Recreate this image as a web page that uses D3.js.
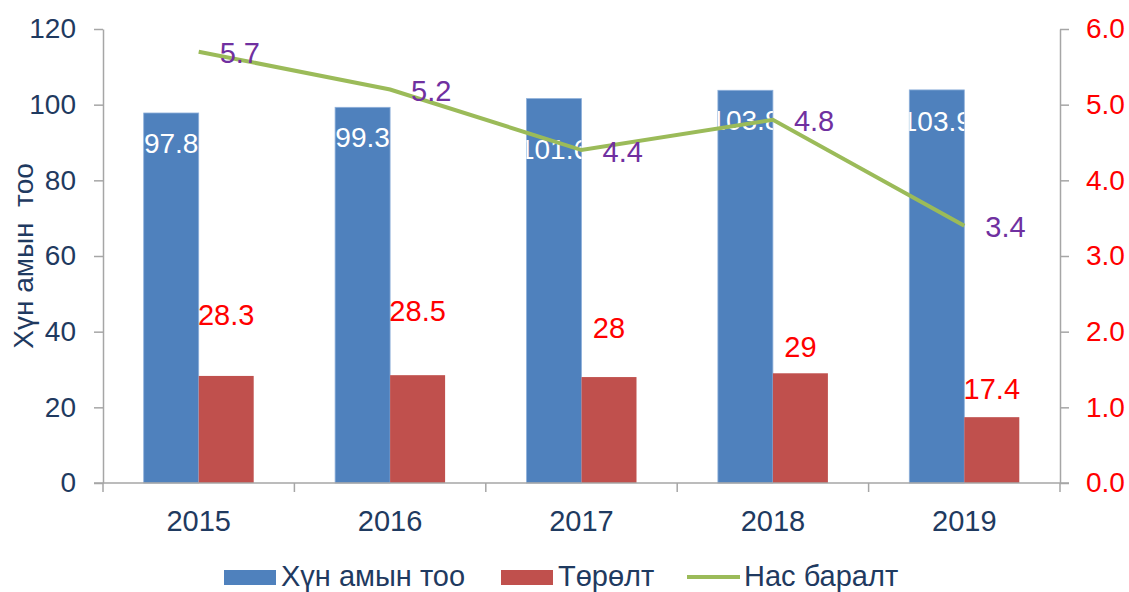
<!DOCTYPE html>
<html>
<head>
<meta charset="utf-8">
<script src="https://cdn.jsdelivr.net/npm/d3@7"></script>
<style>
  body { margin: 0; background: #fff; }
  svg text { font-family: Arial, "Liberation Sans", sans-serif; }
</style>
</head>
<body>
<div id="chart"></div>
<script>
// data
var years = ['2015', '2016', '2017', '2018', '2019'];
var population = [97.8, 99.3, 101.6, 103.8, 103.9];
var births = [28.3, 28.5, 28, 29, 17.4];
var deaths = [5.7, 5.2, 4.4, 4.8, 3.4];
var leftTicks = [0, 20, 40, 60, 80, 100, 120];
var rightTicks = [0, 1, 2, 3, 4, 5, 6];
var seriesNames = ['Хүн амын тоо', 'Төрөлт', 'Нас баралт'];
var axisTitle = 'Хүн амын  тоо';

// label placement tweaks (px), like the hand-moved labels in the original
var popLabelDy = [30, 30, 50, 30, 31];
var birthLabelDy = [-61, -65, -50, -27, -29];

var W = 1129, H = 592;
var m = {left: 103, right: 69, top: 29, bottom: 109};
var navy = '#1F3A60', axisGrey = '#A6A6A6';
var blue = '#4F81BD', red = '#C0504D', green = '#9BBB59', purple = '#7030A0';

var svg = d3.select('#chart').append('svg')
    .attr('width', W)
    .attr('height', H);

var x = d3.scaleBand().domain(years).range([m.left, W - m.right]);
var xs = d3.scaleBand().domain(['pop', 'birth']).range([0, x.bandwidth()]).paddingOuter(0.74);
var y = d3.scaleLinear().domain([0, 120]).range([H - m.bottom, m.top]);
var y2 = d3.scaleLinear().domain([0, 6]).range([H - m.bottom, m.top]);

// bars
var defs = svg.append('defs');
var groups = svg.selectAll('g.year').data(years).enter().append('g')
    .attr('class', 'year')
    .attr('transform', function(d){ return 'translate(' + x(d) + ',0)'; });

groups.append('rect')
    .attr('x', xs('pop'))
    .attr('width', xs.bandwidth())
    .attr('y', function(d, i){ return y(population[i]); })
    .attr('height', function(d, i){ return y(0) - y(population[i]); })
    .attr('fill', blue)
    .attr('stroke', '#8EB0DA')
    .attr('stroke-width', 0.8);

groups.append('rect')
    .attr('x', xs('birth'))
    .attr('width', xs.bandwidth())
    .attr('y', function(d, i){ return y(births[i]); })
    .attr('height', function(d, i){ return y(0) - y(births[i]); })
    .attr('fill', red);

// white labels clipped to their bar
groups.each(function(d, i){
    defs.append('clipPath').attr('id', 'clip' + i)
        .append('rect')
        .attr('x', xs('pop'))
        .attr('width', xs.bandwidth())
        .attr('y', y(population[i]))
        .attr('height', y(0) - y(population[i]));
});
groups.append('text')
    .attr('clip-path', function(d, i){ return 'url(#clip' + i + ')'; })
    .attr('x', xs('pop') + xs.bandwidth() / 2)
    .attr('y', function(d, i){ return y(population[i]) + popLabelDy[i]; })
    .attr('dy', '0.36em')
    .attr('text-anchor', 'middle')
    .attr('font-size', 28)
    .attr('fill', '#fff')
    .text(function(d, i){ return population[i]; });

groups.append('text')
    .attr('x', xs('birth') + xs.bandwidth() / 2)
    .attr('y', function(d, i){ return y(births[i]) + birthLabelDy[i]; })
    .attr('dy', '0.36em')
    .attr('text-anchor', 'middle')
    .attr('font-size', 29)
    .attr('fill', '#FF0000')
    .text(function(d, i){ return births[i]; });

// axes
function styleAxis(g, color){
    g.selectAll('.domain').attr('stroke', axisGrey).attr('stroke-width', 1.5);
    g.selectAll('.tick line').attr('stroke', axisGrey).attr('stroke-width', 1.5);
    g.selectAll('.tick text').attr('fill', color).attr('font-size', 28)
        .attr('font-family', 'Arial, "Liberation Sans", sans-serif');
}

var gl = svg.append('g')
    .attr('transform', 'translate(' + m.left + ',0)')
    .call(d3.axisLeft(y).tickValues(leftTicks).tickSize(9).tickPadding(18).tickSizeOuter(0));
styleAxis(gl, navy);

var gr = svg.append('g')
    .attr('transform', 'translate(' + (W - m.right) + ',0)')
    .call(d3.axisRight(y2).tickValues(rightTicks).tickFormat(d3.format('.1f')).tickSize(9).tickPadding(17).tickSizeOuter(0));
styleAxis(gr, '#FF0000');

var gx = svg.append('g')
    .attr('transform', 'translate(0,' + y(0) + ')');
gx.append('line')
    .attr('x1', m.left - 9).attr('x2', W - m.right + 9)
    .attr('stroke', axisGrey).attr('stroke-width', 1.5);
var bounds = years.map(function(d){ return x(d); }).concat([x.range()[1]]);
gx.selectAll('line.tk').data(bounds).enter().append('line')
    .attr('class', 'tk')
    .attr('x1', function(d){ return d; }).attr('x2', function(d){ return d; })
    .attr('y1', 0).attr('y2', 9)
    .attr('stroke', axisGrey).attr('stroke-width', 1.5);
gx.selectAll('text').data(years).enter().append('text')
    .attr('x', function(d){ return x(d) + x.bandwidth() / 2; })
    .attr('y', 48)
    .attr('text-anchor', 'middle')
    .attr('font-size', 29)
    .attr('fill', navy)
    .text(function(d){ return d; });

svg.append('text')
    .attr('transform', 'translate(33,256) rotate(-90)')
    .attr('text-anchor', 'middle')
    .attr('font-size', 28)
    .attr('fill', navy)
    .attr('xml:space', 'preserve')
    .style('white-space', 'pre')
    .text(axisTitle);

// line
var cx = function(i){ return x(years[i]) + x.bandwidth() / 2; };
var line = d3.line()
    .x(function(d, i){ return cx(i); })
    .y(function(d){ return y2(d); });

svg.append('path')
    .datum(deaths)
    .attr('d', line)
    .attr('fill', 'none')
    .attr('stroke', green)
    .attr('stroke-width', 4);

svg.selectAll('text.death').data(deaths).enter().append('text')
    .attr('class', 'death')
    .attr('x', function(d, i){ return cx(i) + 21; })
    .attr('y', function(d){ return y2(d) + 1; })
    .attr('dy', '0.36em')
    .attr('font-size', 29)
    .attr('fill', purple)
    .text(function(d){ return d3.format('.1f')(d); });

// legend
var legend = svg.append('g').attr('transform', 'translate(0,576)');
var legendItems = [
    {name: seriesNames[0], color: blue, type: 'rect', x: 224},
    {name: seriesNames[1], color: red, type: 'rect', x: 501},
    {name: seriesNames[2], color: green, type: 'line', x: 687}
];
legendItems.forEach(function(d){
    if(d.type === 'rect'){
        legend.append('rect')
            .attr('x', d.x).attr('y', -6)
            .attr('width', 52).attr('height', 15)
            .attr('fill', d.color);
    }
    else{
        legend.append('line')
            .attr('x1', d.x).attr('x2', d.x + 53)
            .attr('y1', 1).attr('y2', 1)
            .attr('stroke', d.color).attr('stroke-width', 4);
    }
    legend.append('text')
        .attr('x', d.x + 57)
        .attr('y', 0)
        .attr('dy', '0.36em')
        .attr('font-size', 29)
        .attr('fill', navy)
        .text(d.name);
});
</script>
</body>
</html>
